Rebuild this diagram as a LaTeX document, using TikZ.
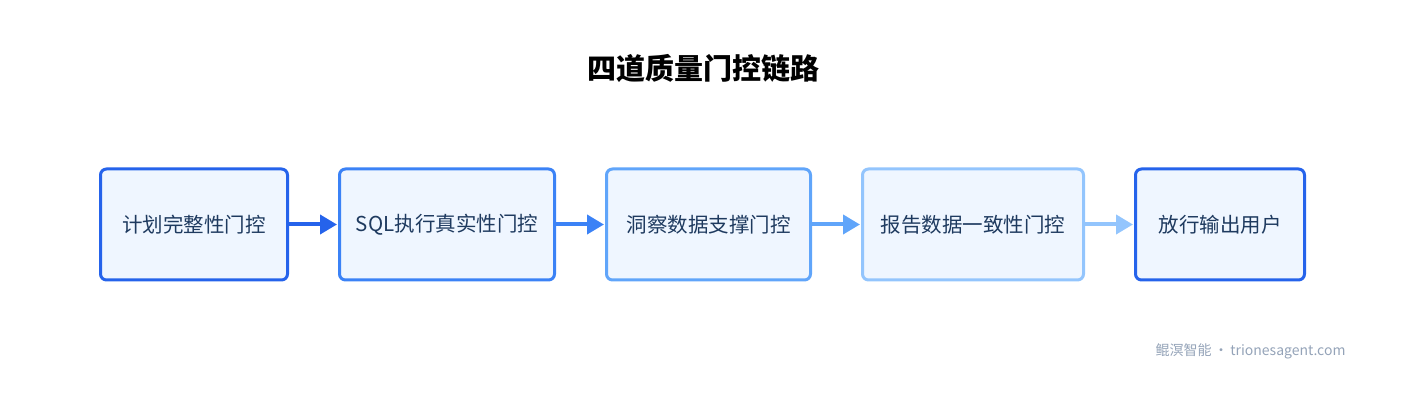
\documentclass[tikz,border=0pt]{standalone}
\usepackage{fontspec}
\setmainfont{Noto Sans CJK SC}
\usetikzlibrary{positioning,arrows.meta}
\definecolor{blueA}{HTML}{2563EB}
\definecolor{blueB}{HTML}{3B82F6}
\definecolor{blueC}{HTML}{60A5FA}
\definecolor{blueD}{HTML}{93C5FD}
\definecolor{boxfill}{HTML}{EFF6FF}
\definecolor{ink}{HTML}{1E3A5F}
\definecolor{creditgray}{HTML}{94A3B8}
\begin{document}
\begin{tikzpicture}[x=1pt,y=1pt,node distance=49pt,
  gate/.style={draw=#1,line width=3pt,rounded corners=6pt,fill=boxfill,text=ink,
    font=\fontsize{20.5}{24}\selectfont,minimum height=111pt,inner xsep=4pt},
  flow/.style={draw=#1,line width=4pt,-{Triangle[length=17pt,width=19pt]},shorten >=1pt}]
  \useasboundingbox (0,0) rectangle (1406,404);
  \node[font=\fontsize{29}{34}\selectfont\bfseries] (title) at (703,336) {四道质量门控链路};
  \node[gate=blueA,minimum width=187pt,anchor=west] (plan) at (99,179.5) {计划完整性门控};
  \node[gate=blueB,minimum width=215pt,right=of plan] (sql) {SQL执行真实性门控};
  \node[gate=blueC,minimum width=204pt,right=of sql] (insight) {洞察数据支撑门控};
  \node[gate=blueD,minimum width=221pt,right=of insight] (report) {报告数据一致性门控};
  \node[gate=blueA,minimum width=169pt,right=of report] (user) {放行输出用户};
  \draw[flow=blueA] (plan) -- (sql);
  \draw[flow=blueB] (sql) -- (insight);
  \draw[flow=blueC] (insight) -- (report);
  \draw[flow=blueD] (report) -- (user);
  \node[text=creditgray,font=\fontsize{14}{17}\selectfont,anchor=east] (credit) at (1349,53) {鲲溟智能\,·\,trionesagent.com};
\end{tikzpicture}
\end{document}
